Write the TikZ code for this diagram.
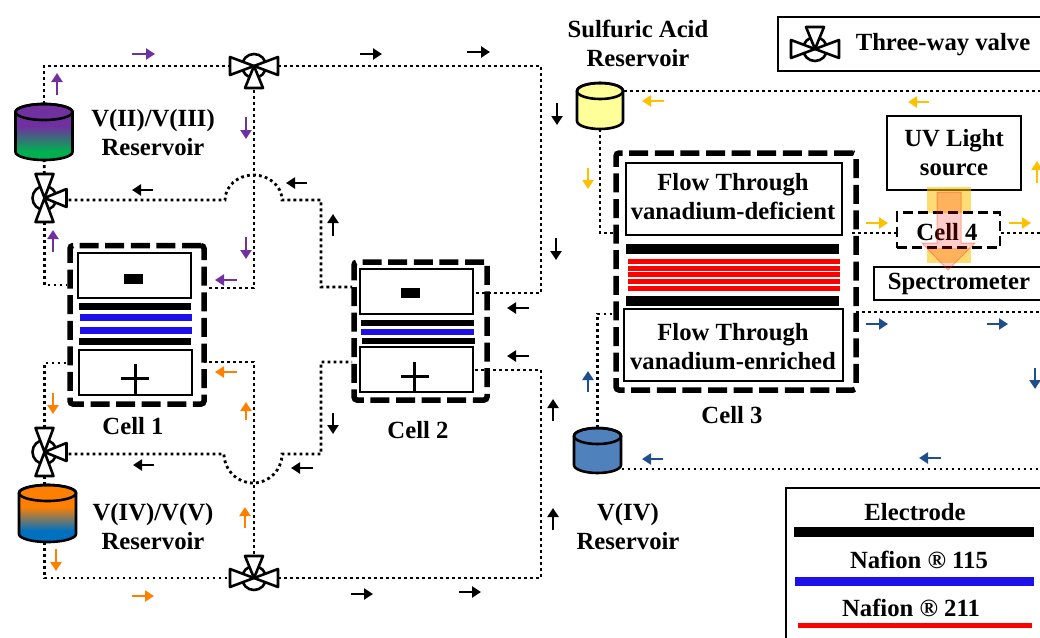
\documentclass[tikz,border=0pt]{standalone}
\usepackage{fontspec}
\setmainfont{Liberation Serif}
\usepackage{tikz}
\usetikzlibrary{arrows.meta,positioning,calc}

\definecolor{flowviolet}{HTML}{7030A0}
\definecolor{floworange}{HTML}{FF8000}
\definecolor{flowgold}{HTML}{FFC000}
\definecolor{flownavy}{HTML}{1F4E8C}
\definecolor{nafionblue}{HTML}{1E10E8}
\definecolor{tankgreen}{HTML}{00B050}
\definecolor{tankblue}{HTML}{0070C0}
\definecolor{tankpale}{HTML}{FFFF99}
\definecolor{tanksteel}{HTML}{4F81BD}

\pgfdeclareverticalshading{tankonefill}{100bp}{color(0bp)=(tankgreen); color(33bp)=(tankgreen); color(55bp)=(flowviolet); color(100bp)=(flowviolet)}
\pgfdeclareverticalshading{tanktwofill}{100bp}{color(0bp)=(tankblue); color(35bp)=(tankblue); color(56bp)=(floworange); color(100bp)=(floworange)}

\tikzset{
  lbl/.style={font=\fontsize{24.7}{29}\selectfont\bfseries,align=center,inner sep=0pt},
  pipe/.style={line width=2.8pt,dash pattern=on 2.8pt off 3.2pt},
  flow/.style={line width=2.6pt,-{Triangle[length=9pt,width=11pt]}},
  cellframe/.style={draw,line width=5.5pt,rounded corners=3pt,dash pattern=on 19pt off 6.6pt,inner sep=0pt},
  chamber/.style={draw,line width=2.6pt,fill=white,inner sep=0pt},
  layer/.style={inner sep=0pt,outer sep=0pt},
  keybox/.style={draw,line width=1.6pt,inner sep=0pt},
  tanknode/.style={inner sep=0pt,outer sep=0pt},
  pics/threeway/.style={code={
    \draw[line width=2.6pt,fill=white] (0,0) circle (12pt);
    \draw[line width=2.6pt,line join=round,fill=white] (0,0) -- (-24,-9) -- (-24,9) -- cycle;
    \draw[line width=2.6pt,line join=round,fill=white] (0,0) -- (24,-9) -- (24,9) -- cycle;
    \draw[line width=2.6pt,line join=round,fill=white] (0,0) -- (-9,-22) -- (9,-22) -- cycle;
  }},
  pics/tank/.style n args={3}{code={
    \draw[line width=2.6pt,#3] (-#1,-#2+8) -- (-#1,#2-8)
      arc[start angle=180,end angle=360,x radius=#1pt,y radius=8pt] -- (#1,-#2+8)
      arc[start angle=0,end angle=180,x radius=#1pt,y radius=8pt];
    \draw[line width=2.6pt] (0,-#2+8) ellipse[x radius=#1pt,y radius=8pt];
  }},
}

\begin{document}
\begin{tikzpicture}[x=1pt,y=-1pt]
\clip (0,0) rectangle (1040,637);

% valves and reservoirs
\coordinate (valvetop) at (254,66);
\coordinate (valvebot) at (254,578);
\coordinate (valvea) at (44.5,198);
\coordinate (valveb) at (44.5,452);
\coordinate (valvekey) at (815,49);
\node[tanknode,minimum width=57pt,minimum height=56pt] (tankone) at (44,132) {};
\node[tanknode,minimum width=57pt,minimum height=57pt] (tanktwo) at (47.5,513.5) {};
\node[tanknode,minimum width=46pt,minimum height=46pt] (tankacid) at (600,106) {};
\node[tanknode,minimum width=47pt,minimum height=45pt] (tankbase) at (597.5,450.5) {};

% pipe ends
\coordinate (coneA) at (67,285);
\coordinate (coneB) at (207,288);
\coordinate (coneC) at (67,363);
\coordinate (coneD) at (204,362);
\coordinate (ctwoA) at (352,287);
\coordinate (ctwoB) at (473,293);
\coordinate (ctwoC) at (352,362);
\coordinate (ctwoD) at (473,370);
\coordinate (cthreeA) at (616,233);
\coordinate (cthreeB) at (852,233);
\coordinate (cthreeC) at (856,312);
\coordinate (cthreeD) at (612,314);
\coordinate (bumpA) at (225,200);
\coordinate (bumpB) at (224,454);
\coordinate (bendA) at (321,200);
\coordinate (bendB) at (321,454);
\coordinate (cornerA) at (541,293);
\coordinate (cornerB) at (541,370);
\coordinate (edgeA) at (1042,91);
\coordinate (edgeB) at (1042,233);
\coordinate (edgeC) at (1042,312);
\coordinate (edgeD) at (1042,469);

% pipes
\draw[pipe] (tankone) |- (valvetop);
\draw[pipe] (valvea) -- (tankone);
\draw[pipe] (valvea) |- (coneA);
\draw[pipe] (valvetop) -| (cornerA) -- (ctwoB);
\draw[pipe] (valvetop) |- (coneB);
\draw[pipe] (valvea |- bumpA) -- (bumpA) arc[start angle=180,end angle=0,x radius=28.5pt,y radius=25pt] -- (bendA) |- (ctwoA);
\draw[pipe] (valveb) |- (coneC);
\draw[pipe] (valveb) -- (valveb |- tanktwo) |- (valvebot);
\draw[pipe] (valvebot) |- (coneD);
\draw[pipe] (valvebot) -| (cornerB) -- (ctwoD);
\draw[pipe] (valveb |- bumpB) -- (bumpB) arc[start angle=180,end angle=360,x radius=29pt,y radius=29pt] -- (bendB) |- (ctwoC);
\draw[pipe] (tankacid) |- (cthreeA);
\draw[pipe] (tankacid |- edgeA) -- (edgeA);
\draw[pipe] (cthreeC) -- (edgeC);
\draw[pipe] (tankbase |- edgeD) -- (edgeD);
\draw[pipe] (tankbase) |- (cthreeD);

% Cell 1
\node[cellframe,minimum width=134pt,minimum height=158.5pt] (cellone) at (137,324.8) {};
\node[chamber,minimum width=113pt,minimum height=45pt] (onetop) at (134.5,275.5) {};
\node[chamber,minimum width=113pt,minimum height=45pt] (onebot) at (135.5,372.5) {};
\node[layer,fill=black,minimum width=19pt,minimum height=10pt] (oneminus) at (133.5,279) {};
\draw[line width=3pt] (121,378) -- (149,378);
\draw[line width=3pt] (135,364) -- (135,394);
\node[layer,fill=black,minimum width=112pt,minimum height=7pt] (onee) at (135,306.5) {};
\node[layer,fill=nafionblue,minimum width=112pt,minimum height=7pt] (onen) at (135.5,317.5) {};
\node[layer,fill=nafionblue,minimum width=112pt,minimum height=7pt] (onem) at (135.5,330.5) {};
\node[layer,fill=black,minimum width=112pt,minimum height=7pt] (onef) at (135,341.5) {};
\node[lbl,below=10pt of cellone,xshift=-4pt] (cellonelbl) {Cell 1};

% Cell 2
\node[cellframe,minimum width=133pt,minimum height=138pt] (celltwo) at (420.5,331) {};
\node[chamber,minimum width=113pt,minimum height=45pt] (twotop) at (416.5,291.5) {};
\node[chamber,minimum width=113pt,minimum height=45pt] (twobot) at (416.5,369.5) {};
\node[layer,fill=black,minimum width=19pt,minimum height=10pt] (twominus) at (410.5,293) {};
\draw[line width=3pt] (401,376) -- (429,376);
\draw[line width=3pt] (414,362) -- (414,391);
\node[layer,fill=black,minimum width=113pt,minimum height=6pt] (twoe) at (417.5,323) {};
\node[layer,fill=nafionblue,minimum width=113pt,minimum height=6pt] (twon) at (417.5,332) {};
\node[layer,fill=black,minimum width=113pt,minimum height=6pt] (twof) at (418.5,341) {};
\node[lbl,below=18pt of celltwo,xshift=-2.5pt] (celltwolbl) {Cell 2};

% Cell 3
\node[cellframe,minimum width=240pt,minimum height=237pt] (cellthree) at (736,271.5) {};
\node[chamber,line width=2.2pt,minimum width=216pt,minimum height=72pt] (threetop) at (734,199) {};
\node[lbl] (threetoplbl) at (733,197) {Flow Through\\vanadium-deficient};
\node[chamber,line width=2.6pt,minimum width=219pt,minimum height=72pt] (threebot) at (733.5,345) {};
\node[lbl] (threebotlbl) at (733,347) {Flow Through\\vanadium-enriched};
\node[layer,fill=black,minimum width=213pt,minimum height=10pt] (threee) at (732.5,249) {};
\node[layer,fill=red,minimum width=212pt,minimum height=5pt] (threen) at (734,261.5) {};
\node[layer,fill=red,minimum width=212pt,minimum height=5pt] (threem) at (734,268.5) {};
\node[layer,fill=red,minimum width=212pt,minimum height=5pt] (threeo) at (734,274.5) {};
\node[layer,fill=red,minimum width=212pt,minimum height=5pt] (threep) at (734,281.5) {};
\node[layer,fill=red,minimum width=212pt,minimum height=5pt] (threeq) at (734,288.5) {};
\node[layer,fill=black,minimum width=213pt,minimum height=10pt] (threef) at (732.5,301) {};
\node[lbl,below=13pt of cellthree,xshift=-4pt] (cellthreelbl) {Cell 3};

% UV light, Cell 4, spectrometer
\node[chamber,lbl,line width=2.4pt,minimum width=134pt,minimum height=74pt] (uvlight) at (954,153) {UV Light\\source};
\node[chamber,lbl,line width=2.4pt,minimum width=170pt,minimum height=33pt] (spectro) at (959,283.5) {Spectrometer};
\fill[flowgold,opacity=.55] (927,187) rectangle (971,263);
\node[draw,line width=2.4pt,fill=white,dash pattern=on 10pt off 5pt,minimum width=103pt,minimum height=35pt] (cellfour) at (948.5,230) {};
\node[lbl] (cellfourlbl) at (947,232) {Cell 4};
\draw[pipe] (cthreeB) -- (cellfour.west |- cthreeB);
\draw[pipe] (cellfour.east |- edgeB) -- (edgeB);
\draw[draw=red!70!orange,line width=1pt,fill=red!90!orange,fill opacity=.2,draw opacity=.35]
  (937,192) -- (961,192) -- (961,243) -- (975,243) -- (948,270) -- (922,243) -- (937,243) -- cycle;

% reservoirs and valves on top of the pipes
\pic at (tankone) {tank={28.5}{28}{shading=tankonefill}};
\pic at (tanktwo) {tank={28.5}{28.5}{shading=tanktwofill}};
\pic at (tankacid) {tank={23}{23}{fill=tankpale}};
\pic at (tankbase) {tank={23.5}{22.5}{fill=tanksteel}};
\pic[rotate=180] at (valvetop) {threeway};
\pic at (valvebot) {threeway};
\pic[rotate=-90] at (valvea) {threeway};
\pic[rotate=-90] at (valveb) {threeway};

% labels
\node[lbl] (tankonelbl) at (153,132.5) {V(II)/V(III)\\Reservoir};
\node[lbl] (tanktwolbl) at (153,526.5) {V(IV)/V(V)\\Reservoir};
\node[lbl] (tankbaselbl) at (628,526.5) {V(IV)\\Reservoir};
\node[lbl] (tankacidlbl) at (638,43.5) {Sulfuric Acid\\Reservoir};

% three-way valve key
\node[keybox,minimum width=282pt,minimum height=54pt] (valvebox) at (919,44) {};
\pic at (valvekey) {threeway};
\node[lbl] (valvelbl) at (943,45) {Three-way valve};

% layer key
\node[keybox,minimum width=274pt,minimum height=172pt] (layerbox) at (923,574) {};
\node[lbl] (electrodelbl) at (915,512) {Electrode};
\node[layer,fill=black,minimum width=240pt,minimum height=10pt] (electrodebar) at (914,532) {};
\node[lbl] (thicklbl) at (919,560) {Nafion ® 115};
\node[layer,fill=nafionblue,minimum width=239pt,minimum height=9pt] (thickbar) at (914.5,581.5) {};
\node[lbl] (thinlbl) at (911,608) {Nafion ® 211};
\node[layer,fill=red,minimum width=234pt,minimum height=5pt] (thinbar) at (915,625.5) {};

% flow direction, V(II)/V(III) side
\draw[flow,flowviolet] (132,54) -- (155,54);
\draw[flow,flowviolet] (57,95) -- (57,73);
\draw[flow,flowviolet] (246,117) -- (246,139);
\draw[flow,flowviolet] (53,252) -- (53,230);
\draw[flow,flowviolet] (246,237) -- (246,259);
\draw[flow,flowviolet] (237,280) -- (215,280);
% V(IV)/V(V) side
\draw[flow,floworange] (237,372) -- (215,372);
\draw[flow,floworange] (246,420) -- (246,402);
\draw[flow,floworange] (53,393) -- (53,414);
\draw[flow,floworange] (245,528) -- (245,507);
\draw[flow,floworange] (56,549) -- (56,571);
\draw[flow,floworange] (132,596) -- (154,596);
% cell 2 loops
\draw[flow] (360,54) -- (382,54);
\draw[flow] (467,52) -- (490,52);
\draw[flow] (153,190) -- (132,190);
\draw[flow] (307,183) -- (286,183);
\draw[flow] (333,236) -- (333,214);
\draw[flow] (333,413) -- (333,434);
\draw[flow] (154,465) -- (133,465);
\draw[flow] (313,468) -- (291,468);
\draw[flow] (557,103) -- (557,125);
\draw[flow] (556,238) -- (556,260);
\draw[flow] (529,308) -- (507,308);
\draw[flow] (529,356) -- (507,356);
\draw[flow] (553,421) -- (553,399);
\draw[flow] (553,530) -- (553,508);
\draw[flow] (351,594) -- (373,594);
\draw[flow] (459,592) -- (481,592);
% sulfuric acid loop
\draw[flow,flowgold] (664,101) -- (642,101);
\draw[flow,flowgold] (929,102) -- (908,102);
\draw[flow,flowgold] (588,168) -- (588,189);
\draw[flow,flowgold] (1037,183) -- (1037,161);
\draw[flow,flowgold] (866,223) -- (888,223);
\draw[flow,flowgold] (1009,223) -- (1031,223);
% V(IV) loop
\draw[flow,flownavy] (866,324) -- (888,324);
\draw[flow,flownavy] (987,324) -- (1008,324);
\draw[flow,flownavy] (1035,368) -- (1035,389);
\draw[flow,flownavy] (941,458) -- (919,458);
\draw[flow,flownavy] (663,459) -- (642,459);
\draw[flow,flownavy] (588,392) -- (588,371);
\end{tikzpicture}
\end{document}
